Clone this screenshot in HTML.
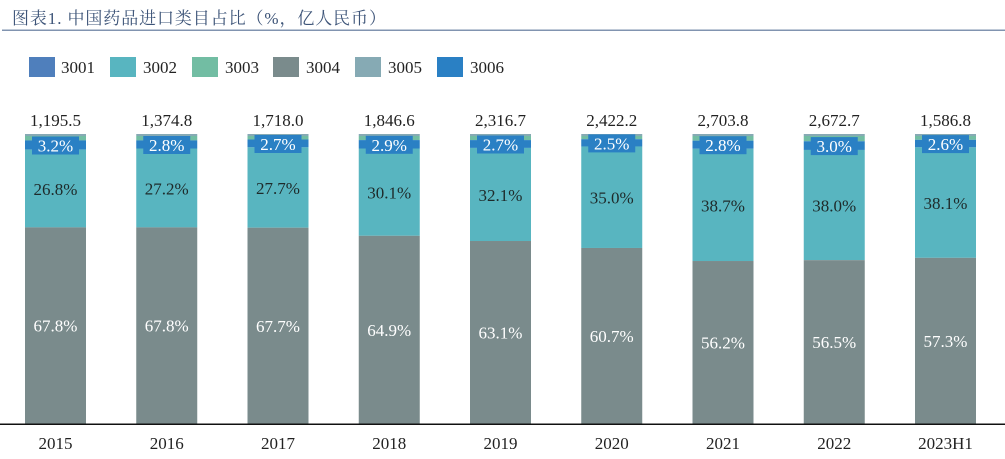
<!DOCTYPE html>
<html><head><meta charset="utf-8"><style>
html,body{margin:0;padding:0;background:#fff;}
svg{display:block;}
text{font-family:"Liberation Serif","Noto Serif CJK SC",serif;}
</style></head><body>
<svg width="1005" height="459" viewBox="0 0 1005 459" xmlns="http://www.w3.org/2000/svg">
<text x="12" y="24" font-size="17" fill="#3d5478" style="font-family:'Liberation Serif','Noto Serif CJK SC','Noto Sans CJK SC',serif;letter-spacing:0.9px">图表1. 中国药品进口类目占比（%，亿人民币）</text>
<rect x="2" y="29.5" width="1003" height="1.5" fill="#8194b0"/>

<g font-size="17" fill="#222">
<rect x="29" y="57" width="26" height="20" fill="#4f7fbc"/><text x="61" y="73">3001</text>
<rect x="110" y="57" width="26" height="20" fill="#58b5c0"/><text x="143" y="73">3002</text>
<rect x="192" y="57" width="26" height="20" fill="#72bda3"/><text x="225" y="73">3003</text>
<rect x="273" y="57" width="26" height="20" fill="#7a8b8c"/><text x="306" y="73">3004</text>
<rect x="355" y="57" width="26" height="20" fill="#86aab4"/><text x="388" y="73">3005</text>
<rect x="437" y="57" width="26" height="20" fill="#2a80c4"/><text x="470" y="73">3006</text>
</g>

<g id="bars">
<g>
<rect x="25" y="134" width="61" height="2" fill="#86aab4"/><rect x="25" y="136" width="61" height="4.4" fill="#72bda3"/><rect x="25" y="140.38" width="61" height="9.28" fill="#2a80c4"/><rect x="25" y="149.66" width="61" height="77.72" fill="#58b5c0"/><rect x="25" y="227.38" width="61" height="196.62" fill="#7a8b8c"/>
</g>
<g>
<rect x="136.25" y="134" width="61" height="2" fill="#86aab4"/><rect x="136.25" y="136" width="61" height="4.4" fill="#72bda3"/><rect x="136.25" y="140.38" width="61" height="8.12" fill="#2a80c4"/><rect x="136.25" y="148.5" width="61" height="78.88" fill="#58b5c0"/><rect x="136.25" y="227.38" width="61" height="196.62" fill="#7a8b8c"/>
</g>
<g>
<rect x="247.5" y="134" width="61" height="2" fill="#86aab4"/><rect x="247.5" y="136" width="61" height="3.5" fill="#72bda3"/><rect x="247.5" y="139.51" width="61" height="7.83" fill="#2a80c4"/><rect x="247.5" y="147.34" width="61" height="80.33" fill="#58b5c0"/><rect x="247.5" y="227.67" width="61" height="196.33" fill="#7a8b8c"/>
</g>
<g>
<rect x="358.75" y="134" width="61" height="2" fill="#86aab4"/><rect x="358.75" y="136" width="61" height="4.1" fill="#72bda3"/><rect x="358.75" y="140.09" width="61" height="8.41" fill="#2a80c4"/><rect x="358.75" y="148.5" width="61" height="87.29" fill="#58b5c0"/><rect x="358.75" y="235.79" width="61" height="188.21" fill="#7a8b8c"/>
</g>
<g>
<rect x="470" y="134" width="61" height="2" fill="#86aab4"/><rect x="470" y="136" width="61" height="4.1" fill="#72bda3"/><rect x="470" y="140.09" width="61" height="7.83" fill="#2a80c4"/><rect x="470" y="147.92" width="61" height="93.09" fill="#58b5c0"/><rect x="470" y="241.01" width="61" height="182.99" fill="#7a8b8c"/>
</g>
<g>
<rect x="581.25" y="134" width="61" height="2" fill="#86aab4"/><rect x="581.25" y="136" width="61" height="3.25" fill="#72bda3"/><rect x="581.25" y="139.22" width="61" height="7.25" fill="#2a80c4"/><rect x="581.25" y="146.47" width="61" height="101.5" fill="#58b5c0"/><rect x="581.25" y="247.97" width="61" height="176.03" fill="#7a8b8c"/>
</g>
<g>
<rect x="692.5" y="134" width="61" height="2" fill="#86aab4"/><rect x="692.5" y="136" width="61" height="4.7" fill="#72bda3"/><rect x="692.5" y="140.67" width="61" height="8.12" fill="#2a80c4"/><rect x="692.5" y="148.79" width="61" height="112.23" fill="#58b5c0"/><rect x="692.5" y="261.02" width="61" height="162.98" fill="#7a8b8c"/>
</g>
<g>
<rect x="803.75" y="134" width="61" height="2" fill="#86aab4"/><rect x="803.75" y="136" width="61" height="5.25" fill="#72bda3"/><rect x="803.75" y="141.25" width="61" height="8.7" fill="#2a80c4"/><rect x="803.75" y="149.95" width="61" height="110.2" fill="#58b5c0"/><rect x="803.75" y="260.15" width="61" height="163.85" fill="#7a8b8c"/>
</g>
<g>
<rect x="915" y="134" width="61" height="2" fill="#86aab4"/><rect x="915" y="136" width="61" height="3.8" fill="#72bda3"/><rect x="915" y="139.8" width="61" height="7.54" fill="#2a80c4"/><rect x="915" y="147.34" width="61" height="110.49" fill="#58b5c0"/><rect x="915" y="257.83" width="61" height="166.17" fill="#7a8b8c"/>
</g>
</g>

<g fill="#2a80c4">
<rect x="32" y="136.5" width="47" height="18"/>
<rect x="143.25" y="136" width="47" height="18"/>
<rect x="254.5" y="135" width="47" height="18"/>
<rect x="365.75" y="135.8" width="47" height="18"/>
<rect x="477" y="135.5" width="47" height="18"/>
<rect x="588.25" y="134.4" width="47" height="18"/>
<rect x="699.5" y="136.2" width="47" height="18"/>
<rect x="810.75" y="137.1" width="47" height="18"/>
<rect x="922" y="135.1" width="47" height="18"/>
</g>
<g font-size="17" fill="#fff" text-anchor="middle">
<text x="55.5" y="151.5">3.2%</text>
<text x="166.75" y="151">2.8%</text>
<text x="278" y="150">2.7%</text>
<text x="389.25" y="150.8">2.9%</text>
<text x="500.5" y="150.5">2.7%</text>
<text x="611.75" y="149.4">2.5%</text>
<text x="723" y="151.2">2.8%</text>
<text x="834.25" y="152.1">3.0%</text>
<text x="945.5" y="150.1">2.6%</text>
</g>

<g font-size="17" fill="#1e2a2a" text-anchor="middle">
<text x="55.5" y="195">26.8%</text>
<text x="166.75" y="194.4">27.2%</text>
<text x="278" y="194">27.7%</text>
<text x="389.25" y="198.6">30.1%</text>
<text x="500.5" y="201">32.1%</text>
<text x="611.75" y="203.7">35.0%</text>
<text x="723" y="211.4">38.7%</text>
<text x="834.25" y="211.6">38.0%</text>
<text x="945.5" y="209.1">38.1%</text>
</g>

<g font-size="17" fill="#fff" text-anchor="middle">
<text x="55.5" y="331.7">67.8%</text>
<text x="166.75" y="331.7">67.8%</text>
<text x="278" y="331.8">67.7%</text>
<text x="389.25" y="335.9">64.9%</text>
<text x="500.5" y="338.5">63.1%</text>
<text x="611.75" y="342">60.7%</text>
<text x="723" y="348.5">56.2%</text>
<text x="834.25" y="348.1">56.5%</text>
<text x="945.5" y="346.9">57.3%</text>
</g>

<g font-size="17" fill="#222" text-anchor="middle">
<text x="55.5" y="126">1,195.5</text>
<text x="166.75" y="126">1,374.8</text>
<text x="278" y="126">1,718.0</text>
<text x="389.25" y="126">1,846.6</text>
<text x="500.5" y="126">2,316.7</text>
<text x="611.75" y="126">2,422.2</text>
<text x="723" y="126">2,703.8</text>
<text x="834.25" y="126">2,672.7</text>
<text x="945.5" y="126">1,586.8</text>
</g>

<rect x="0" y="423.5" width="1005" height="1.5" fill="#111"/>

<g font-size="17" fill="#222" text-anchor="middle">
<text x="55.5" y="449">2015</text>
<text x="166.75" y="449">2016</text>
<text x="278" y="449">2017</text>
<text x="389.25" y="449">2018</text>
<text x="500.5" y="449">2019</text>
<text x="611.75" y="449">2020</text>
<text x="723" y="449">2021</text>
<text x="834.25" y="449">2022</text>
<text x="945.5" y="449">2023H1</text>
</g>
</svg>
</body></html>
